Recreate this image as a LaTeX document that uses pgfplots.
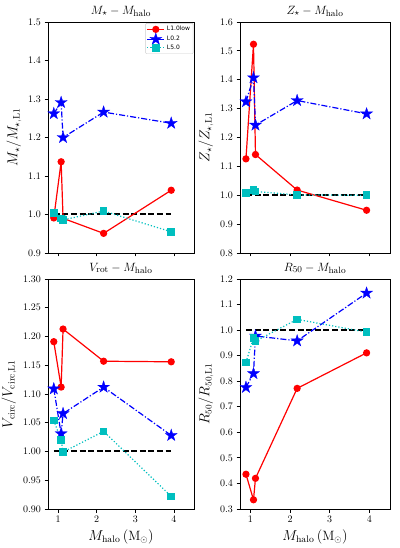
\documentclass[border=0pt]{standalone}
\usepackage{pgfplots}
\pgfplotsset{compat=1.18}
\usepackage{fontspec}
\newfontfamily\dejavu{DejaVu Sans}

\definecolor{mred}{rgb}{1,0,0}
\definecolor{mblue}{rgb}{0,0,1}
\definecolor{mcyan}{rgb}{0,0.75,0.75}

% filled five-pointed star, as matplotlib's '*'
\pgfdeclareplotmark{fstar}{%
  \pgfpathmoveto{\pgfpointpolar{90}{\pgfplotmarksize}}%
  \pgfpathlineto{\pgfpointpolar{126}{0.382*\pgfplotmarksize}}%
  \pgfpathlineto{\pgfpointpolar{162}{\pgfplotmarksize}}%
  \pgfpathlineto{\pgfpointpolar{198}{0.382*\pgfplotmarksize}}%
  \pgfpathlineto{\pgfpointpolar{234}{\pgfplotmarksize}}%
  \pgfpathlineto{\pgfpointpolar{270}{0.382*\pgfplotmarksize}}%
  \pgfpathlineto{\pgfpointpolar{306}{\pgfplotmarksize}}%
  \pgfpathlineto{\pgfpointpolar{342}{0.382*\pgfplotmarksize}}%
  \pgfpathlineto{\pgfpointpolar{18}{\pgfplotmarksize}}%
  \pgfpathlineto{\pgfpointpolar{54}{0.382*\pgfplotmarksize}}%
  \pgfpathclose
  \pgfusepathqfillstroke
}

\tikzset{scalenote/.style={anchor=north east, font=\fontsize{6.5}{7}\selectfont, inner sep=0pt}}

\pgfplotsset{
  panel/.style={
    scale only axis, height=231pt,
    xmin=0.74, xmax=4.52,
    xtick={1,2,3,4},
    tick align=outside, tick pos=left,
    major tick length=3.5pt,
    ticklabel style={font=\fontsize{10}{12}\selectfont},
    title style={font=\fontsize{13}{15}\selectfont, inner sep=1pt, yshift=-1.5pt},
    label style={font=\fontsize{13.5}{15}\selectfont},
    yticklabel style={/pgf/number format/.cd, fixed, fixed zerofill, precision=1},
    axis line style={line width=0.8pt},
    every tick/.style={black, line width=0.8pt},
  },
  ref/.style={black, line width=2pt, dash pattern=on 6pt off 2.6pt, forget plot},
  sA/.style={mred, line width=1.2pt, mark=*, mark size=3pt, mark options={solid}},
  sB/.style={mblue, line width=1.2pt, dash pattern=on 6pt off 2pt on 1.2pt off 2pt,
             mark=fstar, mark size=6.3pt, mark options={solid, fill=mblue, line width=0.3pt}},
  sC/.style={mcyan, line width=1.2pt, dash pattern=on 1.2pt off 2pt,
             mark=square*, mark size=3.2pt, mark options={solid}},
}

\begin{document}
\begin{tikzpicture}
\useasboundingbox (0,0) rectangle (399pt,548pt);

% ---- top left: stellar mass
\begin{axis}[panel, at={(48pt,295pt)}, width=146pt,
  ymin=0.9, ymax=1.5, ytick={0.9,1.0,...,1.5},
  xticklabels={},
  title={$M_\star - M_{\mathrm{halo}}$},
  ylabel={$M_\star/M_{\star,\mathrm{L1}}$},
  legend style={at={(0.995,0.995)}, anchor=north east, draw=gray!40,
    rounded corners=1pt, font=\dejavu\fontsize{6}{7}\selectfont,
    inner sep=1pt, row sep=-1.5pt, cells={anchor=west}},
]
\addplot[ref] coordinates {(0.89,1) (3.93,1)};
\addplot[sA] coordinates {(0.89,0.991) (1.08,1.137) (1.13,0.990) (2.18,0.951) (3.93,1.063)};
\addplot[sB] coordinates {(0.89,1.262) (1.08,1.291) (1.13,1.200) (2.18,1.266) (3.93,1.237)};
\addplot[sC] coordinates {(0.89,1.004) (1.08,0.990) (1.13,0.986) (2.18,1.009) (3.93,0.955)};
\legend{L1.0low, L0.2, L5.0}
\end{axis}

% ---- top right: metallicity
\begin{axis}[panel, at={(240pt,295pt)}, width=150pt,
  ymin=0.8, ymax=1.6, ytick={0.8,0.9,...,1.6},
  xticklabels={},
  title={$Z_\star - M_{\mathrm{halo}}$},
  ylabel={$Z_\star/Z_{\star,\mathrm{L1}}$},
]
\addplot[ref] coordinates {(0.89,1) (3.93,1)};
\addplot[sA] coordinates {(0.89,1.126) (1.08,1.523) (1.13,1.141) (2.18,1.018) (3.93,0.948)};
\addplot[sB] coordinates {(0.89,1.324) (1.08,1.407) (1.13,1.243) (2.18,1.328) (3.93,1.282)};
\addplot[sC] coordinates {(0.89,1.008) (1.08,1.018) (1.13,1.013) (2.18,1.001) (3.93,1.000)};
\end{axis}

% ---- bottom left: rotation velocity
\begin{axis}[panel, at={(48pt,39pt)}, width=146pt, height=230pt,
  ymin=0.9, ymax=1.3, ytick={0.90,0.95,...,1.31},
  yticklabel style={/pgf/number format/.cd, fixed, fixed zerofill, precision=2},
  title={$V_{\mathrm{rot}} - M_{\mathrm{halo}}$},
  ylabel={$V_{\mathrm{circ}}/V_{\mathrm{circ,L1}}$},
  xlabel={$M_{\mathrm{halo}}\,(\mathrm{M_\odot})$},
]
\addplot[ref] coordinates {(0.89,1) (3.93,1)};
\addplot[sA] coordinates {(0.89,1.191) (1.08,1.112) (1.13,1.213) (2.18,1.157) (3.93,1.156)};
\addplot[sB] coordinates {(0.89,1.109) (1.08,1.031) (1.13,1.066) (2.18,1.112) (3.93,1.028)};
\addplot[sC] coordinates {(0.89,1.054) (1.08,1.020) (1.13,0.999) (2.18,1.035) (3.93,0.922)};
\node[scalenote] at (rel axis cs:0.99,0) [yshift=-16pt] {$\times10^{11}$};
\end{axis}

% ---- bottom right: half-mass radius
\begin{axis}[panel, at={(240pt,39pt)}, width=150pt, height=230pt,
  ymin=0.3, ymax=1.2, ytick={0.3,0.4,...,1.21},
  title={$R_{50} - M_{\mathrm{halo}}$},
  ylabel={$R_{50}/R_{50,\mathrm{L1}}$},
  xlabel={$M_{\mathrm{halo}}\,(\mathrm{M_\odot})$},
]
\addplot[ref] coordinates {(0.89,1) (3.93,1)};
\addplot[sA] coordinates {(0.89,0.436) (1.08,0.336) (1.13,0.420) (2.18,0.772) (3.93,0.911)};
\addplot[sB] coordinates {(0.89,0.776) (1.08,0.830) (1.13,0.977) (2.18,0.958) (3.93,1.145)};
\addplot[sC] coordinates {(0.89,0.874) (1.08,0.970) (1.13,0.957) (2.18,1.042) (3.93,0.992)};
\node[scalenote] at (rel axis cs:0.99,0) [yshift=-16pt] {$\times10^{11}$};
\end{axis}
\end{tikzpicture}
\end{document}
